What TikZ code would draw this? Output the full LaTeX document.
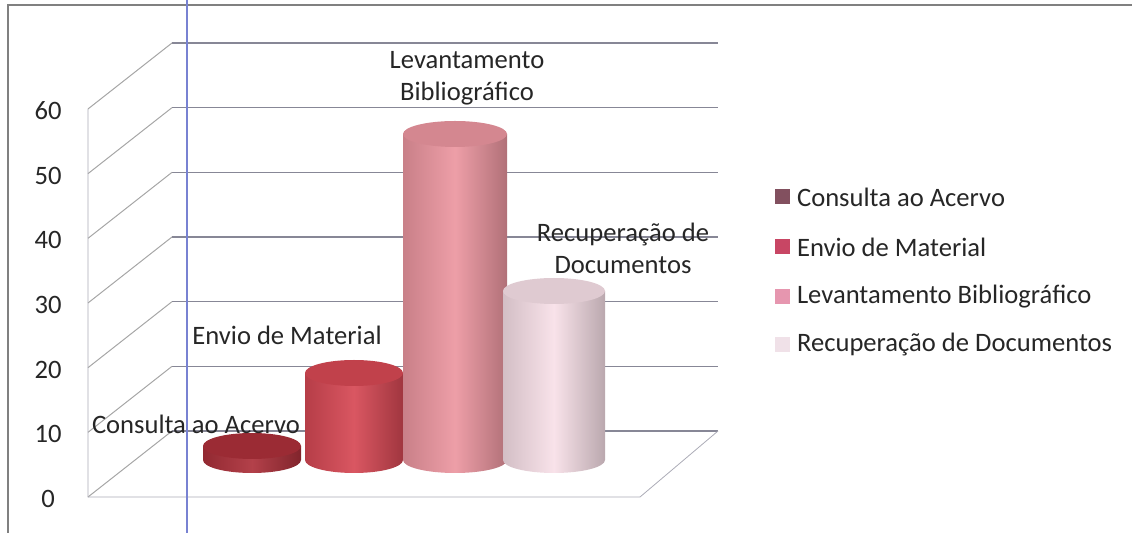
\documentclass[tikz,border=0pt]{standalone}
\usepackage{fontspec}
\setmainfont{Carlito}
\usepackage{xcolor}
\usepackage{tikz}

\definecolor{acervo}{RGB}{172,48,58}
\definecolor{envio}{RGB}{214,72,84}
\definecolor{levant}{RGB}{236,150,160}
\definecolor{recup}{RGB}{248,224,232}
\definecolor{grade}{RGB}{135,135,150}
\definecolor{azul}{RGB}{120,130,210}
\definecolor{legAcervo}{RGB}{130,80,95}
\definecolor{legEnvio}{RGB}{200,70,100}
\definecolor{legLevant}{RGB}{230,150,175}
\definecolor{legRecup}{RGB}{240,225,232}

% cylinder: centre x, half width, top y, colour (base always at y=460)
\newcommand{\cilindro}[4]{%
	\shade[left color=#4!85!black, right color=#4!75!black, middle color=#4!92!white]
		({#1-#2},#3) -- ({#1-#2},460) arc[start angle=180, end angle=360, x radius=#2*0.5pt, y radius=6.5pt] -- ({#1+#2},#3) -- cycle;
	\fill[#4!90!black] (#1,#3) ellipse[x radius=#2*0.5pt, y radius=6.5pt];
}

\begin{document}
\begin{tikzpicture}[x=0.5pt, y=-0.5pt, font=\fontsize{13.3}{16}\selectfont,
	rotulo/.style={align=center, text=black!85},
	legenda/.style={anchor=west, text=black!85},
	quadro/.style={minimum size=7.5pt, inner sep=0pt}]
	\useasboundingbox (0,0) rectangle (1135,533);
	
	% frame
	\draw[gray, line width=0.6pt] (8,533) -- (8,5) -- (1132,5);
	
	% walls and grid
	\foreach \v in {0,10,...,60} {
		\draw[grade, line width=0.55pt] (172,{431-6.467*\v}) -- (718,{431-6.467*\v});
		\draw[gray!70, line width=0.5pt] (88,{497-6.467*\v}) -- (172,{431-6.467*\v});
		\node[text=black!85] (tick\v) at (48,{499-6.467*\v}) {\v};
	}
	\draw[grade!70, line width=0.4pt] (88,109) -- (88,497) -- (640,497) -- (718,431);
	
	% bars
	\cilindro{252}{49}{446}{acervo}
	\cilindro{354}{49}{373}{envio}
	\cilindro{455}{52}{134}{levant}
	\cilindro{554}{51}{291}{recup}
	
	% labels on the bars
	\node[rotulo] (lbAcervo) at (196,424) {Consulta ao Acervo};
	\node[rotulo] (lbEnvio) at (287,335) {Envio de Material};
	\node[rotulo] (lbLevant) at (467,78) {Levantamento\\Bibliográfico};
	\node[rotulo] (lbRecup) at (623,248) {Recuperação de\\Documentos};
	
	% legend
	\node[quadro, fill=legAcervo] (qAcervo) at (782,197) {};
	\node[quadro, fill=legEnvio] (qEnvio) at (782,247) {};
	\node[quadro, fill=legLevant] (qLevant) at (782,297) {};
	\node[quadro, fill=legRecup] (qRecup) at (782,345) {};
	\node[legenda] (tAcervo) at (790,197) {Consulta ao Acervo};
	\node[legenda] (tEnvio) at (790,247) {Envio de Material};
	\node[legenda] (tLevant) at (790,297) {Levantamento Bibliográfico};
	\node[legenda] (tRecup) at (790,345) {Recuperação de Documentos};
	
	% blue guide line
	\draw[azul, line width=0.7pt] (187,0) -- (187,533);
\end{tikzpicture}
\end{document}
